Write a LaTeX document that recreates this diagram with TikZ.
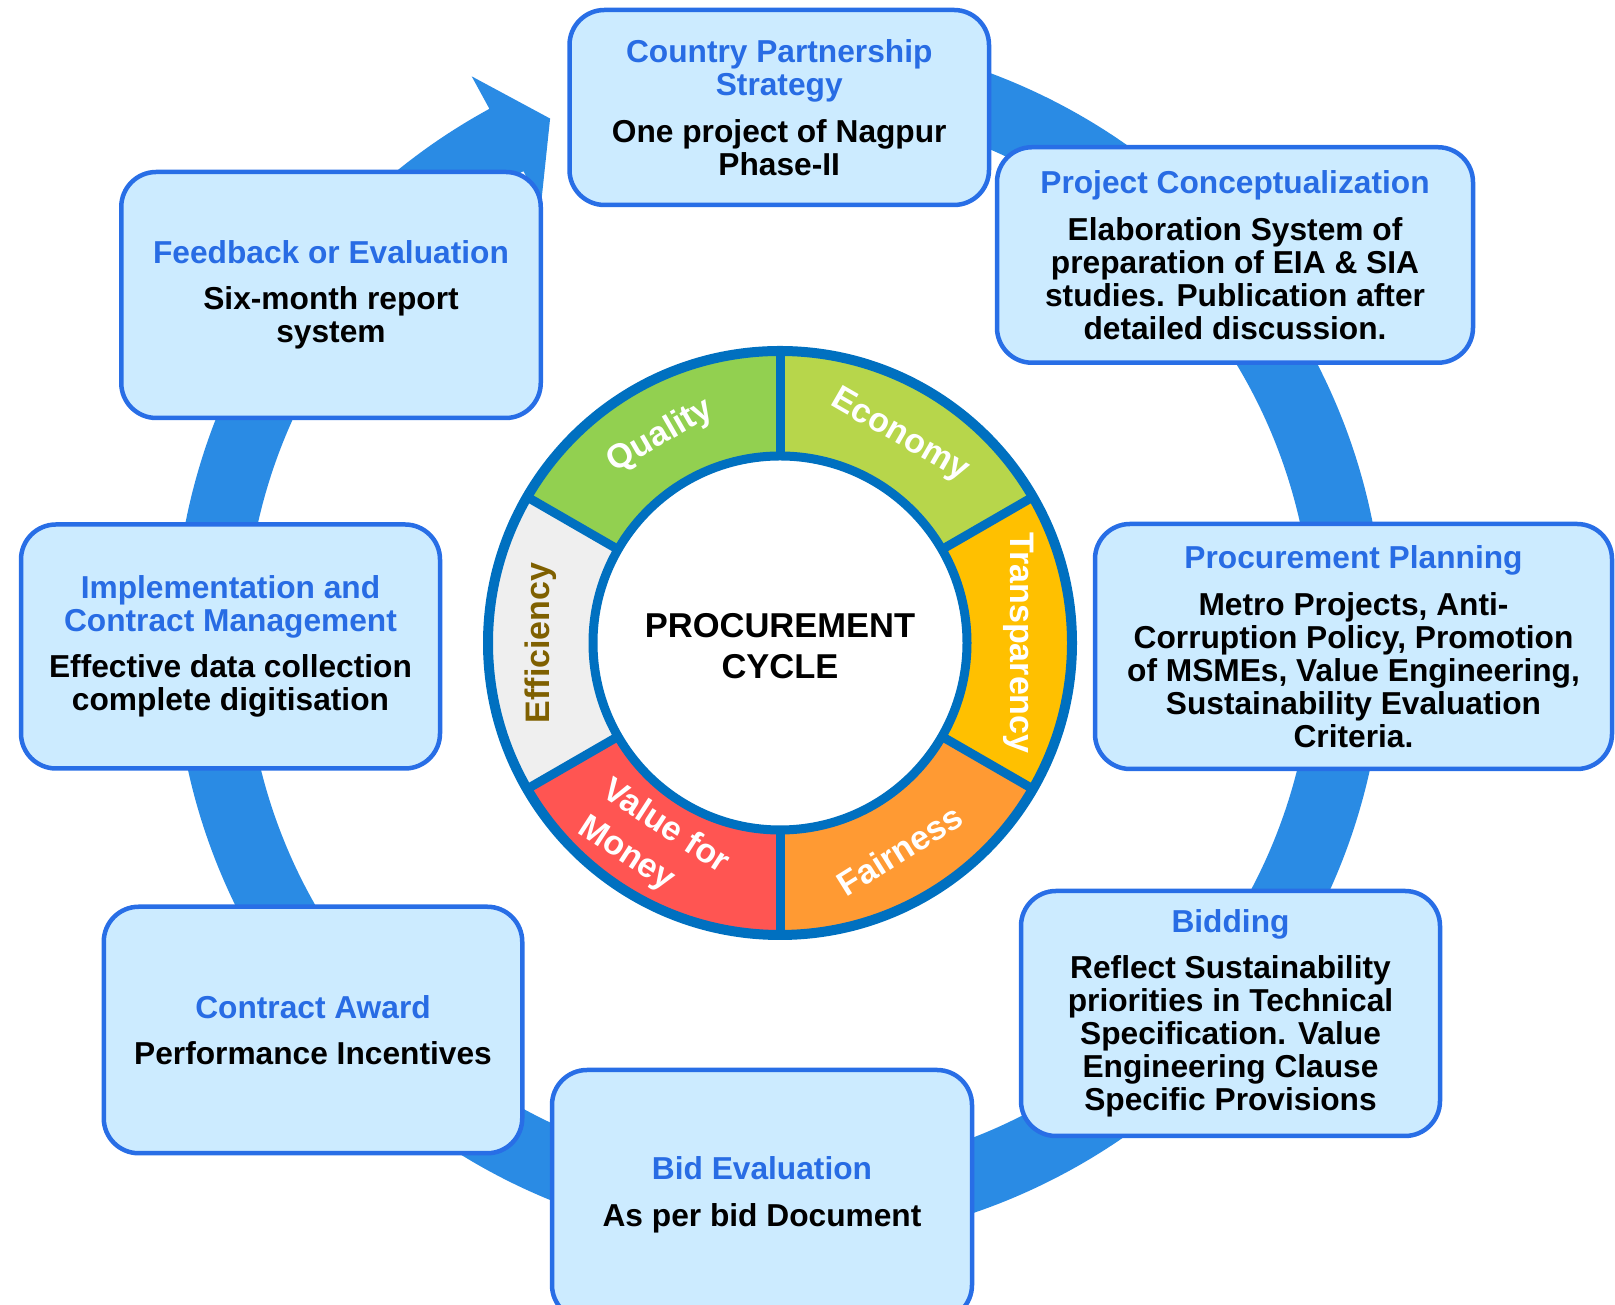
\documentclass[tikz,border=0pt]{standalone}
\usepackage{fontspec}
\setmainfont{Liberation Sans}
\usetikzlibrary{calc}
\definecolor{bandblue}{RGB}{42,139,228}
\definecolor{boxline}{RGB}{40,110,230}
\definecolor{titleblue}{RGB}{40,108,228}
\definecolor{boxfill}{RGB}{204,235,255}
\definecolor{ringblue}{RGB}{0,112,192}
\definecolor{cquality}{RGB}{146,208,80}
\definecolor{ceconomy}{RGB}{183,214,75}
\definecolor{ctransp}{RGB}{255,192,0}
\definecolor{cfair}{RGB}{255,154,51}
\definecolor{cvalue}{RGB}{255,85,82}
\definecolor{ceff}{RGB}{239,239,239}
\definecolor{effbrown}{RGB}{127,96,0}
\newcommand{\boxtitle}[1]{\textcolor{titleblue}{#1}}
\begin{document}
\begin{tikzpicture}[x=1pt,y=1pt,
  box/.style={draw=boxline, fill=boxfill, line width=4.5pt, rounded corners=35pt,
    align=center, inner sep=0pt, font=\fontsize{31.7}{33}\selectfont\bfseries},
  seglab/.style={text=white, font=\fontsize{34}{44}\selectfont\bfseries, inner sep=0pt},
  ringline/.style={draw=ringblue, line width=9pt}
  ]
\clip (0,0) rectangle (1615,1305);
\coordinate (C) at (779,665);
\coordinate (R) at (780,662);
% circular arrow band
\fill[bandblue] ($(C)+(118.6:605)$) arc[start angle=118.6, end angle=460, radius=605]
  -- ($(C)+(460:534)$) arc[start angle=460, end angle=118.6, radius=534]
  -- ($(C)+(118.6:497)$) -- ($(C)+(113.7:569.5)$) -- ($(C)+(118.6:642)$) -- cycle;
% ring sectors
\foreach \a/\b/\c in {30/90/ceconomy, 90/150/cquality, 150/210/ceff, 210/270/cvalue, 270/330/cfair, 330/390/ctransp}
  \fill[\c] ($(R)+(\a:292)$) arc[start angle=\a, end angle=\b, radius=292]
    -- ($(R)+(\b:187)$) arc[start angle=\b, end angle=\a, radius=187] -- cycle;
\foreach \a in {30,90,150,210,270,330}
  \draw[ringline] ($(R)+(\a:187)$) -- ($(R)+(\a:292)$);
\draw[ringline, line width=10pt] (R) circle[radius=292];
\draw[ringline, fill=white] (R) circle[radius=187];
% ring labels
\node[seglab, rotate=-30] (economy) at ($(R)+(60:239)$) {Economy};
\node[seglab, rotate=30] (quality) at ($(R)+(120:239)$) {Quality};
\node[seglab, rotate=90, text=effbrown] (efficiency) at ($(R)+(180:239)$) {Efficiency};
\node[seglab, rotate=-33, align=left] (value) at ($(R)+(238:239)$) {Value for\\Money};
\node[seglab, rotate=32] (fairness) at ($(R)+(300:239)$) {Fairness};
\node[seglab, rotate=-90] (transparency) at ($(R)+(0:239)$) {Transparency};
\node[font=\fontsize{34.5}{41}\selectfont\bfseries, align=center, inner sep=0pt] (centre) at ($(R)+(0,-3)$) {PROCUREMENT\\CYCLE};
% boxes
\node[box, minimum width=419.5pt, minimum height=195pt] (cps) at (779.25,1197.5)
  {\boxtitle{Country Partnership}\\\boxtitle{Strategy}\\[13.5pt]One project of Nagpur\\Phase-II};
\node[box, minimum width=476pt, minimum height=215.5pt] (pc) at (1235,1050)
  {\boxtitle{Project Conceptualization}\\[13.5pt]Elaboration System of\\preparation of EIA \& SIA\\studies. Publication after\\detailed discussion.};
\node[box, minimum width=517pt, minimum height=245pt] (pp) at (1353.5,658.5)
  {\boxtitle{Procurement Planning}\\[13.5pt]Metro Projects, Anti-\\Corruption Policy, Promotion\\of MSMEs, Value Engineering,\\Sustainability Evaluation\\Criteria.};
\node[box, minimum width=419pt, minimum height=245pt] (bid) at (1230.5,291.5)
  {\boxtitle{Bidding}\\[13.5pt]Reflect Sustainability\\priorities in Technical\\Specification. Value\\Engineering Clause\\Specific Provisions};
\node[box, minimum width=420pt, minimum height=250pt] (be) at (762,110)
  {\boxtitle{Bid Evaluation}\\[13.5pt]As per bid Document};
\node[box, minimum width=418.5pt, minimum height=246.5pt] (ca) at (313,275)
  {\boxtitle{Contract Award}\\[13.5pt]Performance Incentives};
\node[box, minimum width=419pt, minimum height=244pt] (impl) at (230.5,658.5)
  {\raisebox{0pt}[\height][0pt]{\boxtitle{Implementation and}}\\\boxtitle{Contract Management}\\[13.5pt]Effective data collection\\complete digitisation\rule[-3pt]{0pt}{1pt}};
\node[box, minimum width=419.5pt, minimum height=246pt] (fb) at (331,1010)
  {\boxtitle{Feedback or Evaluation}\\[13.5pt]Six-month report\\system\rule[-3pt]{0pt}{1pt}};
\end{tikzpicture}
\end{document}
